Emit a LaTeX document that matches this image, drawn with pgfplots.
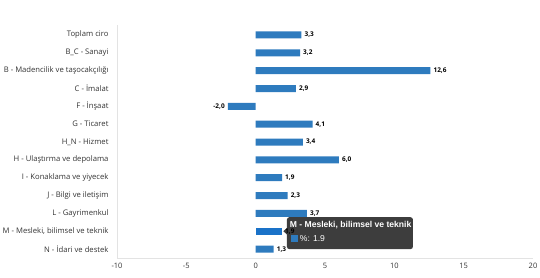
\documentclass[border=0pt]{standalone}
\usepackage{pgfplots}
\pgfplotsset{compat=1.18}
\usepackage{fontspec}
\setmainfont{Open Sans}
\setsansfont{Open Sans}
\newfontfamily\tipfont{Liberation Sans}
\definecolor{barblue}{HTML}{2E7BBE}
\definecolor{hiblue}{HTML}{1A72C8}
\definecolor{lblgray}{HTML}{333333}
\definecolor{axgray}{HTML}{E3E3E3}
\definecolor{tipbg}{HTML}{333333}
\begin{document}
\begin{tikzpicture}
\useasboundingbox (-117bp,-20bp) rectangle (423bp,258bp);
\begin{axis}[
  at={(0,0)}, anchor=south west,
  scale only axis, width=416bp, height=233bp,
  xbar, bar width=7bp, bar shift=0pt,
  xmin=-10, xmax=20,
  ymin=-0.56, ymax=12.5, y dir=reverse,
  xtick={-10,-5,0,5,10,15,20},
  ytick={0,...,12},
  yticklabels={Toplam ciro,B\_C - Sanayi,B - Madencilik ve taşocakçılığı,C - İmalat,F - İnşaat,G - Ticaret,H\_N - Hizmet,H - Ulaştırma ve depolama,I - Konaklama ve yiyecek,J - Bilgi ve iletişim,L - Gayrimenkul,M - Mesleki{,} bilimsel ve teknik,N - İdari ve destek},
  axis x line*=bottom, axis y line*=left,
  axis line style={axgray, line width=0.8pt},
  x axis line style={-}, y axis line style={-},
  major tick length=0pt,
  tick style={draw=none},
  xticklabel style={font=\fontsize{7.5}{8}\selectfont, text=lblgray, yshift=-2bp},
  yticklabel style={font=\fontsize{7.7}{9}\selectfont, text=lblgray, xshift=-5bp},
  /pgf/number format/assume math mode=true,
  nodes near coords,
  nodes near coords align={horizontal},
  every node near coord/.append style={font=\bfseries\fontsize{6.5}{7}\selectfont, text=black, inner sep=3bp,
    /pgf/number format/.cd, use comma, fixed, fixed zerofill, precision=1},
]
\addplot[fill=barblue, draw=none] coordinates {
(3.3,0) (3.2,1) (12.6,2) (2.9,3) (-2.0,4) (4.1,5) (3.4,6) (6.0,7) (1.9,8) (2.3,9) (3.7,10) (1.3,12)};
\addplot[fill=hiblue, draw=none] coordinates {(1.9,11)};
% tooltip
\fill[tipbg, opacity=0.95] (axis cs:2.0,11) -- (axis cs:2.25,10.82) -- (axis cs:2.25,11.18) -- cycle;
\node[fill=tipbg, fill opacity=0.95, text opacity=1, rounded corners=2.5bp, anchor=north west, minimum width=126bp, minimum height=32bp, inner sep=0pt] (tip) at (axis cs:2.24,10.2) {};
\node[anchor=north west, text=white, font=\tipfont\bfseries\fontsize{8.6}{9}\selectfont, inner sep=0pt] at ([xshift=3bp,yshift=-4.5bp]tip.north west) {M - Mesleki, bilimsel ve teknik};
\fill[barblue] ([xshift=4bp,yshift=-18bp]tip.north west) rectangle ++(7bp,-7bp);
\node[anchor=west, text=white, font=\tipfont\fontsize{8.6}{9}\selectfont, inner sep=0pt] at ([xshift=13bp,yshift=-21.5bp]tip.north west) {\%: 1.9};
\end{axis}
\end{tikzpicture}
\end{document}
